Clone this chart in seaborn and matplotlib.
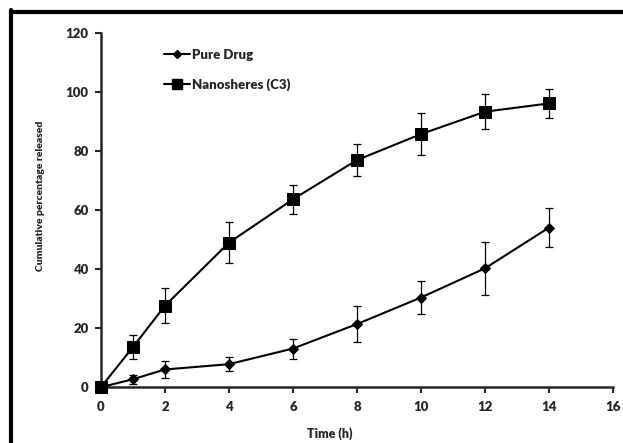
import pandas as pd
import numpy as np
import seaborn as sns
import matplotlib.pyplot as plt
from matplotlib.lines import Line2D

# data
time_h = [0, 1, 2, 4, 6, 8, 10, 12, 14]
pure_drug = [0, 2.7, 6.0, 7.8, 13.1, 21.4, 30.4, 40.3, 54.1]
pure_err = [0, 1.5, 3.0, 2.3, 3.4, 6.2, 5.5, 9.0, 6.7]
nano = [0, 13.6, 27.6, 49.0, 63.7, 77.0, 85.8, 93.4, 96.2]
nano_err = [0, 4.0, 6.0, 7.0, 5.0, 5.5, 7.0, 6.0, 5.0]

labels = ["Pure Drug", "Nanosheres (C3)"]

df = pd.DataFrame({
    "Time": time_h * 2,
    "Release": pure_drug + nano,
    "Err": pure_err + nano_err,
    "Formulation": [labels[0]] * len(time_h) + [labels[1]] * len(time_h),
})

sns.set_style("ticks")
plt.rcParams["font.family"] = ["Lato", "DejaVu Sans"]
plt.rcParams["font.weight"] = "heavy"

fig = plt.figure(figsize=(6.23, 4.43), dpi=100)
ax = fig.add_axes([0.162, 0.126, 0.822, 0.799])

for name in labels:
    d = df[df["Formulation"] == name]
    ax.errorbar(d["Time"], d["Release"], yerr=d["Err"], fmt="none",
                ecolor="black", elinewidth=0.9, capsize=3, capthick=0.9, zorder=2)

sns.lineplot(data=df, x="Time", y="Release", hue="Formulation", style="Formulation",
             markers={labels[0]: "D", labels[1]: "s"}, dashes=False,
             palette={labels[0]: "black", labels[1]: "black"},
             linewidth=1.5, ax=ax, zorder=3, legend=False)

# marker sizes differ between series
for l in ax.lines:
    if l.get_marker() == "D":
        l.set_markersize(5)
    elif l.get_marker() == "s":
        l.set_markersize(8.5)
    l.set_markeredgecolor("black")
    l.set_markerfacecolor("black")
    l.set_clip_on(False)

ax.set_xlim(0, 16)
ax.set_ylim(0, 120)
ax.set_xticks(np.arange(0, 17, 2))
ax.set_yticks(np.arange(0, 121, 20))
ax.tick_params(axis="both", direction="out", length=4, width=1.5, labelsize=9.5)
ax.tick_params(axis="x", pad=6)
ax.tick_params(axis="y", pad=5)
for lab in ax.get_xticklabels() + ax.get_yticklabels():
    lab.set_fontweight("heavy")
for s in ["left", "bottom"]:
    ax.spines[s].set_linewidth(1.8)
ax.spines["top"].set_visible(False)
ax.spines["right"].set_visible(False)

ax.set_xlabel("Time (h)", fontsize=9, fontweight="heavy")
ax.set_ylabel("Cumulative percentage released", fontsize=7.5, fontweight="heavy")
ax.xaxis.set_label_coords(0.447, -0.113)
ax.yaxis.set_label_coords(-0.11, 0.54)

handles = [Line2D([], [], color="black", marker="D", markersize=4, lw=1.5),
           Line2D([], [], color="black", marker="s", markersize=6.5, lw=1.5)]
ax.legend(handles, labels, loc="upper left", bbox_to_anchor=(0.1, 0.99), frameon=False,
          handlelength=2.0, handletextpad=0.1, labelspacing=1.3,
          prop={"weight": "heavy", "size": 9.5})

# outer frame, cropped at the right and bottom
fig.add_artist(Line2D([11 / 623, 1], [1 - 11.5 / 443, 1 - 11.5 / 443], color="black", lw=3))
fig.add_artist(Line2D([11 / 623, 11 / 623], [0, 1 - 10 / 443], color="black", lw=3))

fig.savefig("out.png", dpi=100)
